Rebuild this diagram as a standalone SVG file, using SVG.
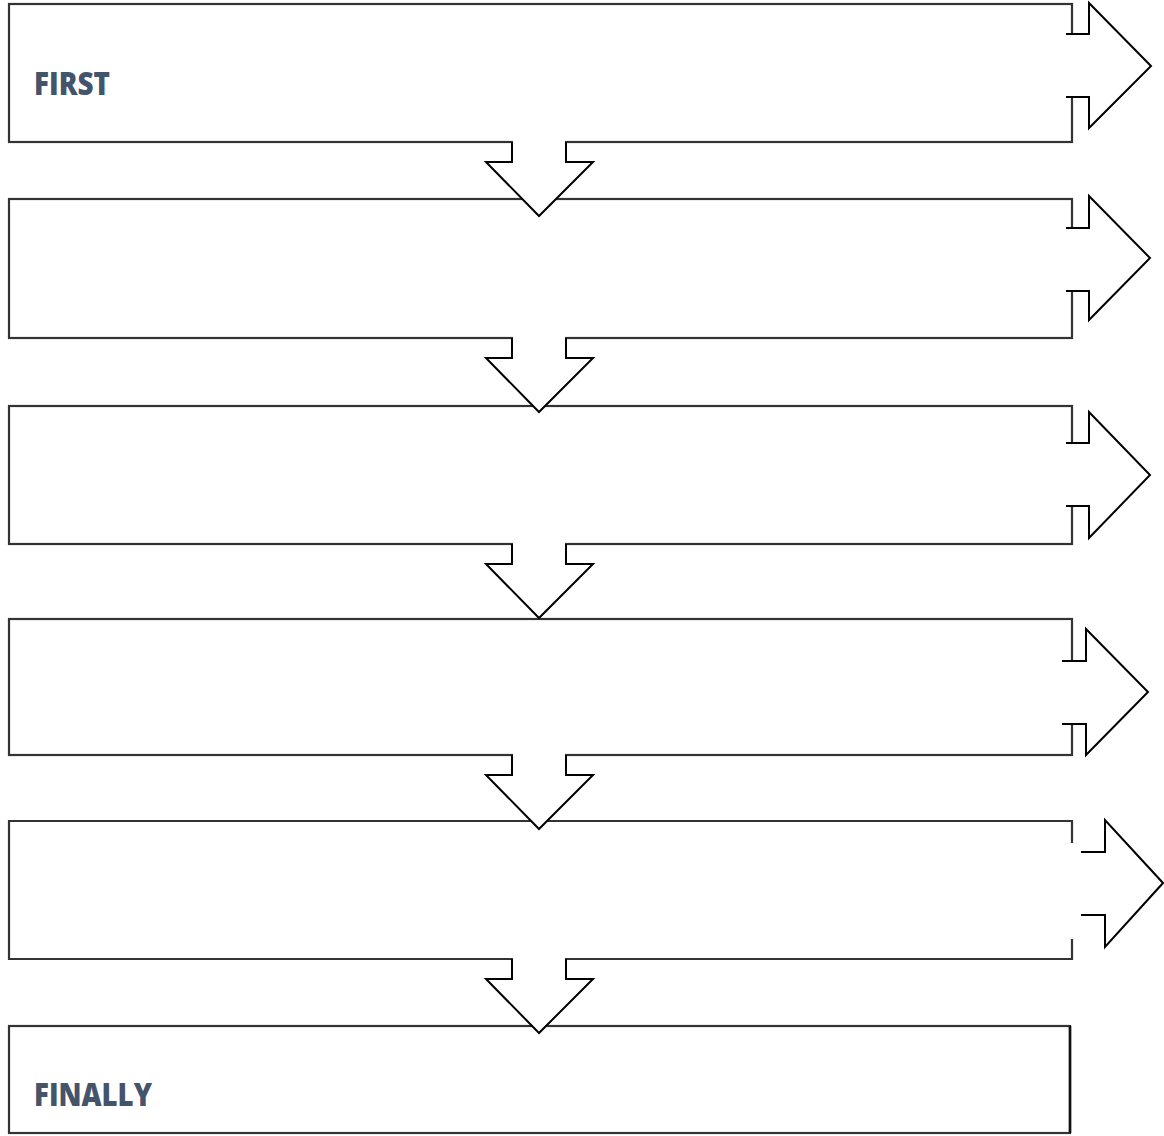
<svg xmlns="http://www.w3.org/2000/svg" width="1164" height="1136" viewBox="0 0 1164 1136">
<style>
.box{fill:#ffffff;stroke:#333333;stroke-width:2.2}
.boxline{fill:none;stroke:#333333;stroke-width:2.2}
.afill{fill:#ffffff;stroke:none}
.aline{fill:none;stroke:#000000;stroke-width:2;stroke-linejoin:miter}
.label{font-family:"Open Sans","Noto Sans","Liberation Sans",sans-serif;font-weight:800;font-size:31px;fill:#44546A}
</style>
<rect width="1164" height="1136" fill="#ffffff"/>
<g id="node1">
<rect class="box" x="9" y="4" width="1063" height="138"/>
<text class="label" x="34" y="95" textLength="76" lengthAdjust="spacingAndGlyphs">FIRST</text>
</g>
<g id="node2">
<rect class="box" x="9" y="199" width="1063" height="139"/>
</g>
<g id="node3">
<rect class="box" x="9" y="406" width="1063" height="138"/>
</g>
<g id="node4">
<rect class="box" x="9" y="619" width="1063" height="136"/>
</g>
<g id="node5">
<path class="boxline" d="M1072,843 L1072,821 L9,821 L9,959 L1072,959 L1072,939" fill="#ffffff"/>
</g>
<g id="node6">
<rect class="box" x="9" y="1026" width="1061" height="107"/>
<line x1="1070" y1="1026" x2="1070" y2="1133" stroke="#111111" stroke-width="2.6"/>
<text class="label" x="34" y="1106" textLength="118" lengthAdjust="spacingAndGlyphs">FINALLY</text>
</g>
<g id="connectors">
<g id="down1">
<polygon class="afill" points="513,140 513,162 486,162 539,215.5 592,162 565,162 565,140"/>
<polyline class="aline" points="512,142 512,162 486,162 539,216 593,162 566,162 566,142"/>
</g>
<g id="down2">
<polygon class="afill" points="513,336 513,358 486,358 539,411.5 592,358 565,358 565,336"/>
<polyline class="aline" points="512,338 512,358 486,358 539,412 593,358 566,358 566,338"/>
</g>
<g id="down3">
<polygon class="afill" points="513,542 513,564 486,564 539,617.5 592,564 565,564 565,542"/>
<polyline class="aline" points="512,544 512,564 486,564 539,618 593,564 566,564 566,544"/>
</g>
<g id="down4">
<polygon class="afill" points="513,753 513,775 486,775 539,828.5 592,775 565,775 565,753"/>
<polyline class="aline" points="512,755 512,775 486,775 539,829 593,775 566,775 566,755"/>
</g>
<g id="down5">
<polygon class="afill" points="513,957 513,979 486,979 539,1032.5 592,979 565,979 565,957"/>
<polyline class="aline" points="512,959 512,979 486,979 539,1033 593,979 566,979 566,959"/>
</g>
<g id="right1">
<polygon class="afill" points="1066,35 1089,35 1089,3 1151,66 1089,128 1089,96 1066,96"/>
<polyline class="aline" points="1066,34 1089,34 1089,3 1151,66 1089,128 1089,97 1066,97"/>
</g>
<g id="right2">
<polygon class="afill" points="1066,229 1089,229 1089,196 1150,258 1089,320 1089,290 1066,290"/>
<polyline class="aline" points="1066,228 1089,228 1089,196 1150,258 1089,320 1089,291 1066,291"/>
</g>
<g id="right3">
<polygon class="afill" points="1066,444 1089,444 1089,412 1150,475 1089,538 1089,505 1066,505"/>
<polyline class="aline" points="1066,443 1089,443 1089,412 1150,475 1089,538 1089,506 1066,506"/>
</g>
<g id="right4">
<polygon class="afill" points="1062,662 1086,662 1086,629 1148,692 1086,755 1086,723 1062,723"/>
<polyline class="aline" points="1062,661 1086,661 1086,629 1148,692 1086,755 1086,724 1062,724"/>
</g>
<g id="right5">
<polyline class="aline" points="1081,852 1105,852 1105,820 1163,883 1105,947 1105,915 1081,915"/>
</g>
</g>
</svg>
